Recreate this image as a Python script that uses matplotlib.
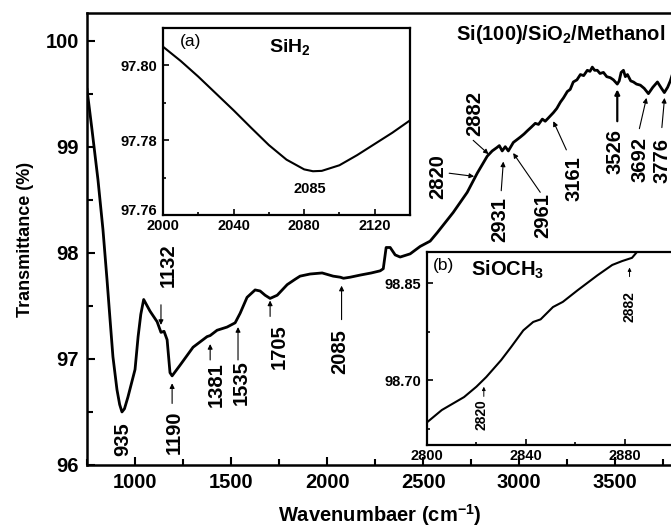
import numpy as np
import matplotlib
matplotlib.use("Agg")
import matplotlib.pyplot as plt
import matplotlib.transforms as mtransforms
from matplotlib.ticker import MultipleLocator, FormatStrFormatter, FuncFormatter

plt.rcParams['font.family'] = ['Liberation Sans', 'DejaVu Sans']
plt.rcParams['mathtext.default'] = 'regular'

# main FTIR spectrum
wn = [750, 776, 807, 833, 854, 870, 885, 906, 920, 932, 945, 963, 1000, 1016,
      1030, 1045, 1078, 1115, 1135, 1151, 1167, 1182, 1193, 1234, 1302, 1375,
      1391, 1427, 1479, 1521, 1547, 1583, 1625, 1651, 1677, 1703, 1740, 1792,
      1833, 1859, 1911, 1974, 2031, 2068, 2085, 2120, 2172, 2230, 2276, 2292,
      2307, 2328, 2354, 2380, 2432, 2484, 2536, 2573, 2656, 2729, 2781, 2833,
      2859, 2882, 2896, 2911, 2927, 2943, 2969, 3005, 3025, 3042, 3060, 3083,
      3100, 3120, 3135, 3151, 3177, 3195, 3214, 3230, 3250, 3265, 3281, 3300,
      3318, 3335, 3354, 3368, 3380, 3392, 3406, 3420, 3438, 3455, 3474, 3490,
      3510, 3520, 3530, 3542, 3552, 3563, 3580, 3594, 3610, 3630, 3650, 3672,
      3695, 3719, 3740, 3755, 3772, 3786, 3800]
trans = [99.54, 99.16, 98.69, 98.22, 97.75, 97.37, 97.02, 96.71, 96.57, 96.50,
         96.53, 96.64, 96.90, 97.21, 97.42, 97.56, 97.45, 97.35, 97.25, 97.26,
         97.18, 96.87, 96.84, 96.94, 97.11, 97.21, 97.22, 97.27, 97.30, 97.34,
         97.43, 97.58, 97.65, 97.64, 97.60, 97.57, 97.60, 97.70, 97.75, 97.78,
         97.80, 97.81, 97.78, 97.77, 97.76, 97.77, 97.79, 97.81, 97.83, 97.85,
         98.05, 98.05, 97.98, 97.96, 97.99, 98.06, 98.11, 98.19, 98.38, 98.57,
         98.75, 98.91, 98.96, 98.99, 99.01, 98.96, 99.00, 98.96, 99.04, 99.09,
         99.12, 99.15, 99.18, 99.22, 99.21, 99.26, 99.24, 99.27, 99.32, 99.36,
         99.42, 99.46, 99.52, 99.54, 99.61, 99.63, 99.68, 99.67, 99.72, 99.71,
         99.75, 99.72, 99.72, 99.69, 99.70, 99.66, 99.65, 99.63, 99.59, 99.62,
         99.70, 99.72, 99.66, 99.68, 99.62, 99.61, 99.59, 99.58, 99.55, 99.50,
         99.56, 99.61, 99.55, 99.51, 99.56, 99.62, 99.70]

# main-panel peak labels
peaks = ['935', '1132', '1190', '1381', '1535', '1705', '2085', '2820', '2882',
         '2931', '2961', '3161', '3526', '3692', '3776']
# label centres and arrows (tail -> head), layout only
label_xy = [(935, 96.245), (1172, 97.88), (1203, 96.31), (1422, 96.76),
            (1552, 96.78), (1750, 97.12), (2068, 97.07), (2578, 98.72),
            (2766, 99.31), (2896, 98.31), (3120, 98.35), (3286, 98.70),
            (3500, 98.95), (3630, 98.88), (3742, 98.87)]
arrows = [None, ((1135, 97.51), (1135, 97.32)), ((1193, 96.58), (1193, 96.77)),
          ((1391, 96.99), (1391, 97.14)), ((1536, 96.99), (1536, 97.30)),
          ((1703, 97.40), (1703, 97.55)), ((2075, 97.37), (2075, 97.69)),
          ((2635, 98.75), (2765, 98.72)), ((2760, 99.06), (2840, 98.93)),
          ((2906, 98.585), (2917, 98.86)), ((3109, 98.57), (2968, 98.94)),
          ((3245, 98.97), (3177, 99.24)), ((3510, 99.24), (3510, 99.54)),
          ((3625, 99.17), (3662, 99.46)), ((3742, 99.18), (3756, 99.46))]

# inset (a): SiH2 region
wn_a = [2000, 2010, 2020, 2030, 2040, 2050, 2060, 2070, 2080, 2085, 2090,
        2100, 2110, 2120, 2130, 2140]
tr_a = [97.805, 97.8012, 97.797, 97.7925, 97.788, 97.7833, 97.7787, 97.7748,
        97.7722, 97.7717, 97.7718, 97.7733, 97.776, 97.779, 97.782, 97.7853]

# inset (b): SiOCH3 region
wn_b = [2800, 2806, 2815, 2820, 2824, 2830, 2834, 2839, 2843, 2846, 2851,
        2855, 2861, 2869, 2875, 2879, 2883, 2885, 2890, 2900]
tr_b = [98.635, 98.654, 98.674, 98.690, 98.705, 98.731, 98.751, 98.777,
        98.790, 98.794, 98.813, 98.821, 98.839, 98.862, 98.878, 98.884,
        98.889, 98.898, 98.915, 98.95]

W, H = 671, 530
fig = plt.figure(figsize=(W / 100, H / 100), dpi=100)

ax = fig.add_axes([87 / W, 65 / H, 586 / W, 452 / H])
ax.plot(wn, trans, color='k', lw=2.0, solid_joinstyle='round')
ax.set_xlim(750, 3800)
ax.set_ylim(96, 100.26)
ax.xaxis.set_major_locator(MultipleLocator(500))
ax.xaxis.set_minor_locator(MultipleLocator(250))
ax.yaxis.set_major_locator(MultipleLocator(1))
ax.yaxis.set_minor_locator(MultipleLocator(0.5))
ax.tick_params(which='both', direction='in', width=1.5, top=False, right=False)
ax.tick_params(which='major', length=6, labelsize=14.5, pad=6)
ax.tick_params(which='minor', length=4)
for lab in ax.get_xticklabels() + ax.get_yticklabels():
    lab.set_fontweight('bold')
for s in ax.spines.values():
    s.set_linewidth(1.8)
ax.set_xlabel('Wavenumbaer (cm$^{-1}$)', fontsize=14.5, fontweight='bold', labelpad=7)
ax.set_ylabel('Transmittance (%)', fontsize=13, fontweight='bold', labelpad=8)
ax.text(665 / W, 1 - 35 / H, 'Si(100)/SiO$_2$/Methanol', transform=fig.transFigure,
        ha='right', va='center', fontsize=14.5, fontweight='bold')

for name, (tx, ty), arr in zip(peaks, label_xy, arrows):
    ax.text(tx, ty, name, rotation=90, ha='center', va='center',
            fontsize=14.5, fontweight='bold')
    if arr is not None:
        lw = 1.6 if name == '3526' else 0.8
        ax.annotate('', xy=arr[1], xytext=arr[0],
                    arrowprops=dict(arrowstyle='-|>', lw=lw, color='k',
                                    mutation_scale=7, shrinkA=0, shrinkB=0))

# inset (a)
axa = fig.add_axes([163 / W, 315 / H, 247 / W, 187 / H])
axa.plot(wn_a, tr_a, color='k', lw=1.5)
axa.set_xlim(2000, 2140)
axa.set_ylim(97.76, 97.81)
axa.xaxis.set_major_locator(MultipleLocator(40))
axa.xaxis.set_minor_locator(MultipleLocator(20))
axa.yaxis.set_major_locator(MultipleLocator(0.02))
axa.yaxis.set_minor_locator(MultipleLocator(0.01))
# lowest label is drawn by hand, nudged up like in the original
axa.yaxis.set_major_formatter(FuncFormatter(lambda v, p: '' if v < 97.765 else '%.2f' % v))
off = mtransforms.ScaledTranslation(-4 / 72, 3 / 72, fig.dpi_scale_trans)
axa.text(0, 97.76, '97.76', transform=axa.get_yaxis_transform() + off,
         ha='right', va='center', fontsize=10.5, fontweight='bold')
axa.text(0.07, 0.93, '(a)', transform=axa.transAxes, fontsize=12.5, va='center')
axa.text(0.43, 0.90, 'SiH$_2$', transform=axa.transAxes, fontsize=14,
         fontweight='bold', va='center')
axa.text(2083, 97.767, '2085', ha='center', va='center', fontsize=10.5,
         fontweight='bold')

# inset (b)
axb = fig.add_axes([427 / W, 85 / H, 247 / W, 193 / H])
axb.plot(wn_b, tr_b, color='k', lw=1.5)
axb.set_xlim(2800, 2900)
axb.set_ylim(98.60, 98.898)
axb.xaxis.set_major_locator(MultipleLocator(40))
axb.xaxis.set_minor_locator(MultipleLocator(20))
axb.yaxis.set_major_locator(MultipleLocator(0.15))
axb.yaxis.set_minor_locator(MultipleLocator(0.075))
axb.yaxis.set_major_formatter(FormatStrFormatter('%.2f'))
axb.text(0.025, 0.93, '(b)', transform=axb.transAxes, fontsize=12.5, va='center')
axb.text(0.18, 0.91, 'SiOCH$_3$', transform=axb.transAxes, fontsize=14.5,
         fontweight='bold', va='center')
axb.text(2822, 98.647, '2820', rotation=90, ha='center', va='center',
         fontsize=10, fontweight='bold')
axb.annotate('', xy=(2823, 98.690), xytext=(2823, 98.675),
             arrowprops=dict(arrowstyle='-|>', lw=0.7, color='k',
                             mutation_scale=5, shrinkA=0, shrinkB=0))
axb.text(2882, 98.814, '2882', rotation=90, ha='center', va='center',
         fontsize=10, fontweight='bold')
axb.annotate('', xy=(2882, 98.874), xytext=(2882, 98.860),
             arrowprops=dict(arrowstyle='-|>', lw=0.7, color='k',
                             mutation_scale=5, shrinkA=0, shrinkB=0))

for a in (axa, axb):
    a.tick_params(which='both', direction='in', width=1.2, top=False, right=False)
    a.tick_params(which='major', length=4, labelsize=10.5)
    a.tick_params(axis='x', which='major', pad=3)
    a.tick_params(axis='y', which='major', pad=4)
    a.tick_params(which='minor', length=2.5)
    for lab in a.get_xticklabels() + a.get_yticklabels():
        lab.set_fontweight('bold')
    for s in a.spines.values():
        s.set_linewidth(1.6)

fig.savefig('out.png', dpi=100)
